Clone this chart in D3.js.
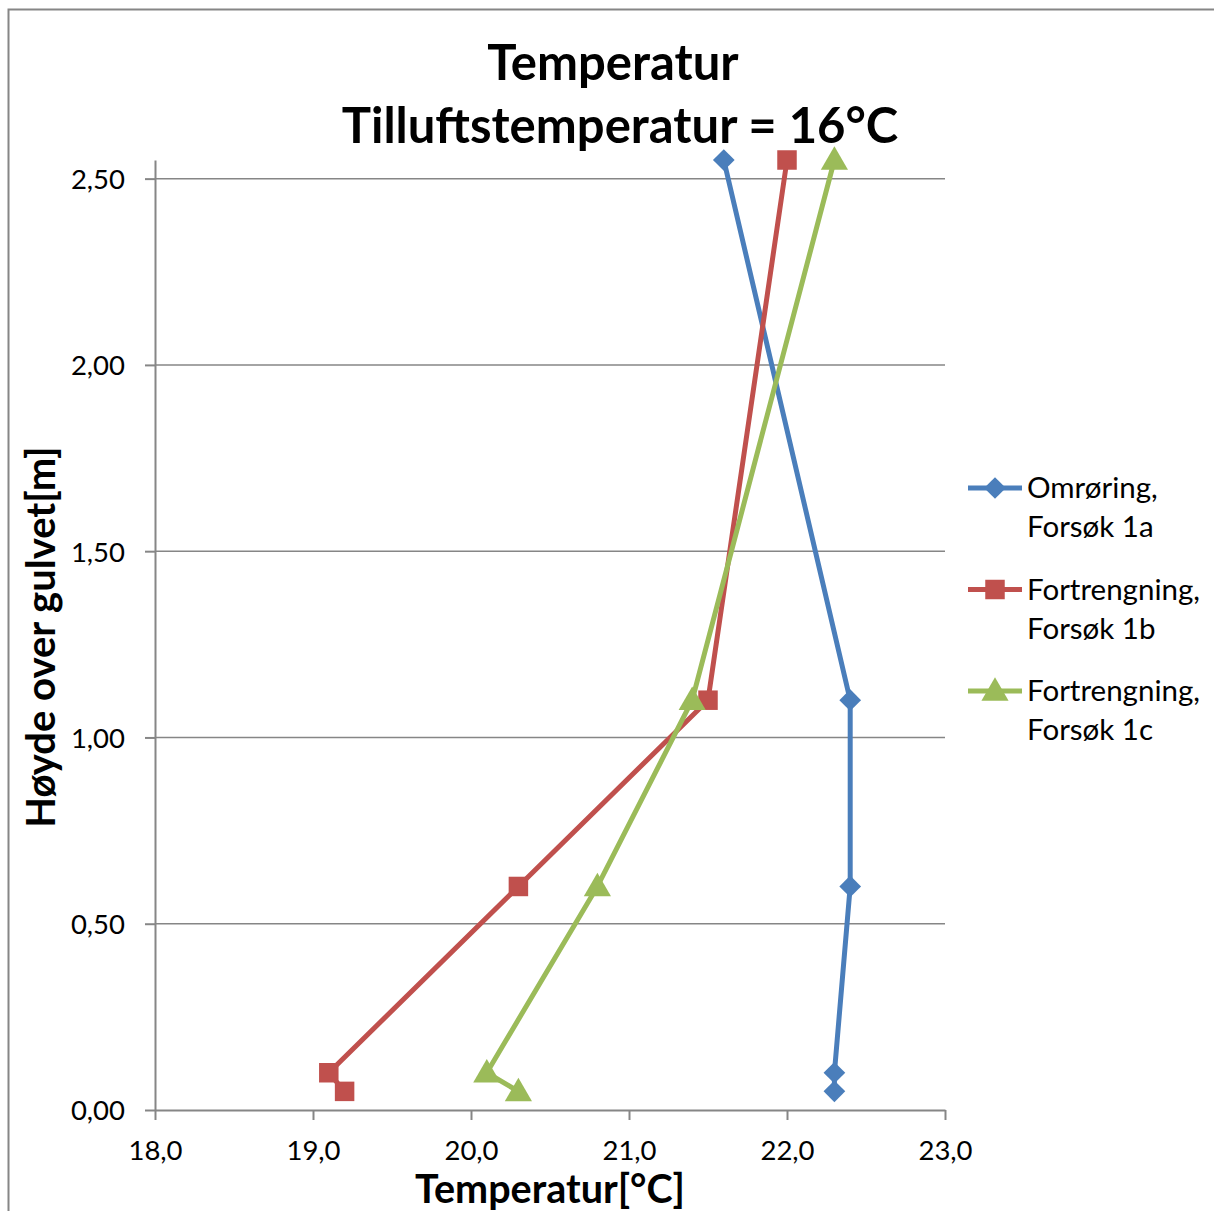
<!DOCTYPE html>
<html>
<head>
<meta charset="utf-8">
<script src="https://cdn.jsdelivr.net/npm/d3@7"></script>
<style>
  html, body { margin: 0; padding: 0; background: #fff; }
  svg { display: block; font-family: Lato, "Open Sans", sans-serif; }
</style>
</head>
<body>
<svg id="chart" width="1214" height="1211"></svg>
<script>
// Measured heights above the floor (m)
const heights = [0.05, 0.10, 0.60, 1.10, 2.55];
// Temperatures (°C) per experiment, same order as heights
const tempOmroring1a = [22.3, 22.3, 22.4, 22.4, 21.6];
const tempFortrengning1b = [19.2, 19.1, 20.3, 21.5, 22.0];
const tempFortrengning1c = [20.3, 20.1, 20.8, 21.4, 22.3];

const seriesNames = [["Omrøring,", "Forsøk 1a"], ["Fortrengning,", "Forsøk 1b"], ["Fortrengning,", "Forsøk 1c"]];
const seriesColors = ["#4a7ebb", "#c0504d", "#9bbb59"];
const seriesMarkers = ["diamond", "square", "triangle"];

const xTicks = [18, 19, 20, 21, 22, 23];
const yTicks = [0, 0.5, 1.0, 1.5, 2.0, 2.5];

const titleLines = ["Temperatur", "Tilluftstemperatur = 16°C"];
const xTitle = "Temperatur[°C]";
const yTitle = "Høyde over gulvet[m]";

const series = [tempOmroring1a, tempFortrengning1b, tempFortrengning1c].map((temps, i) => ({
  name: seriesNames[i], color: seriesColors[i], marker: seriesMarkers[i],
  points: temps.map((t, j) => ({ t, h: heights[j] }))
}));

const svg = d3.select("#chart");
const plot = { left: 155, right: 945, top: 160, bottom: 1110 };

const x = d3.scaleLinear().domain([18, 23]).range([plot.left, plot.right]);
const y = d3.scaleLinear().domain([0, 2.55]).range([plot.bottom, plot.top]);

const comma = (digits) => (v) => v.toFixed(digits).replace(".", ",");

// Outer chart frame (right and bottom edges fall outside the canvas)
svg.append("rect")
  .attr("x", 8.5).attr("y", 9.5).attr("width", 1220).attr("height", 1220)
  .attr("fill", "none").attr("stroke", "#868686").attr("stroke-width", 2);

// Horizontal gridlines
svg.append("g").selectAll("line").data(yTicks.filter(v => v > 0)).join("line")
  .attr("x1", plot.left).attr("x2", plot.right)
  .attr("y1", d => y(d)).attr("y2", d => y(d))
  .attr("stroke", "#868686").attr("stroke-width", 1.5);

// Axes
const xAxis = svg.append("g").attr("transform", `translate(0,${plot.bottom})`)
  .call(d3.axisBottom(x).tickValues(xTicks).tickFormat(comma(1)).tickSizeInner(10).tickSizeOuter(0).tickPadding(20));
const yAxis = svg.append("g").attr("transform", `translate(${plot.left},0)`)
  .call(d3.axisLeft(y).tickValues(yTicks).tickFormat(comma(2)).tickSizeInner(10).tickSizeOuter(0).tickPadding(20));

[xAxis, yAxis].forEach(g => {
  g.select(".domain").attr("stroke", "#868686").attr("stroke-width", 2);
  g.selectAll(".tick line").attr("stroke", "#868686").attr("stroke-width", 2);
  g.selectAll(".tick text").attr("fill", "#000").style("font-size", "27.5px").style("font-family", "Lato, sans-serif");
});
yAxis.selectAll(".tick text").attr("dy", "0.36em");

// Series lines
const line = d3.line().x(d => x(d.t)).y(d => y(d.h));
const markerPath = {
  diamond: d3.symbol().type(d3.symbolDiamond2).size(300),
  square: d3.symbol().type(d3.symbolSquare).size(380),
  triangle: d3.symbol().type(d3.symbolTriangle).size(320)
};

series.forEach(s => {
  svg.append("path").datum(s.points)
    .attr("d", line).attr("fill", "none")
    .attr("stroke", s.color).attr("stroke-width", 5).attr("stroke-linejoin", "round");
});
series.forEach(s => {
  svg.append("g").selectAll("path").data(s.points).join("path")
    .attr("transform", d => `translate(${x(d.t)},${y(d.h) + (s.marker === "triangle" ? 2 : 0)})`)
    .attr("d", markerPath[s.marker]())
    .attr("fill", s.color);
});

// Title
svg.append("text").attr("x", 613).attr("y", 80).attr("text-anchor", "middle")
  .style("font-size", "49px").style("font-weight", "bold").text(titleLines[0]);
svg.append("text").attr("x", 620).attr("y", 143).attr("text-anchor", "middle")
  .style("font-size", "49px").style("font-weight", "bold").text(titleLines[1]);

// Axis titles
svg.append("text").attr("x", 550).attr("y", 1203).attr("text-anchor", "middle")
  .style("font-size", "39.5px").style("font-weight", "bold").text(xTitle);
svg.append("text").attr("transform", "translate(55,637) rotate(-90)").attr("text-anchor", "middle")
  .style("font-size", "40px").style("font-weight", "bold").text(yTitle);

// Legend
const legend = svg.append("g");
series.forEach((s, i) => {
  const cy = 488 + i * 101.5;
  const g = legend.append("g").attr("transform", `translate(0,${cy})`);
  g.append("line").attr("x1", 968).attr("x2", 1022).attr("y1", 0).attr("y2", 0)
    .attr("stroke", s.color).attr("stroke-width", 5);
  g.append("path").attr("transform", `translate(995,${s.marker === "triangle" ? 2 : 0})`)
    .attr("d", markerPath[s.marker]()).attr("fill", s.color);
  g.append("text").attr("x", 1027).attr("y", 10).style("font-size", "29.5px").text(s.name[0]);
  g.append("text").attr("x", 1027).attr("y", 49).style("font-size", "29.5px").text(s.name[1]);
});
</script>
</body>
</html>
